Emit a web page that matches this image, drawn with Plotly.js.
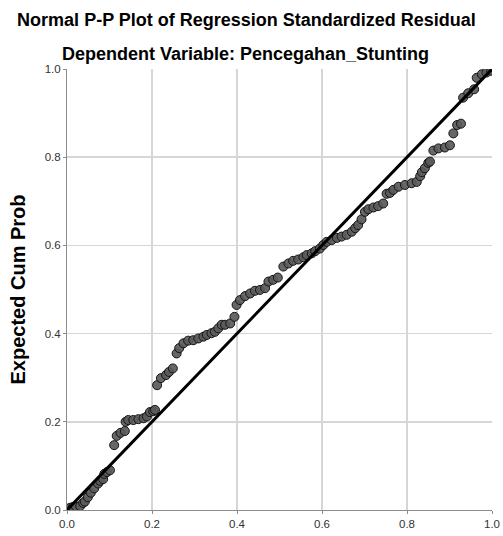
<!DOCTYPE html>
<html>
<head>
<meta charset="utf-8">
<script src="https://cdn.plot.ly/plotly-3.0.1.min.js"></script>
<style>html,body{margin:0;padding:0;background:#fff;}#chart{width:503px;height:536px;}</style>
</head>
<body>
<div id="chart"></div>
<script>
// Observed cumulative probability (x) and expected cumulative probability (y)
var observedCumProb = [0.000,0.007,0.014,0.021,0.031,0.038,0.042,0.049,0.056,0.064,0.073,0.078,0.085,0.088,0.094,0.101,
  0.111,0.117,0.126,0.136,0.138,0.144,0.156,0.168,0.180,0.188,0.195,0.203,0.207,0.212,0.221,0.233,0.240,0.249,
  0.258,0.264,0.274,0.285,0.297,0.309,0.321,0.329,0.340,0.348,0.356,0.364,0.372,0.384,0.394,0.399,0.407,0.419,
  0.431,0.442,0.454,0.466,0.474,0.485,0.496,0.509,0.521,0.532,0.544,0.556,0.564,0.576,0.584,0.595,0.603,0.611,
  0.623,0.635,0.646,0.658,0.670,0.678,0.685,0.693,0.701,0.709,0.721,0.732,0.744,0.752,0.760,0.768,0.780,0.795,
  0.811,0.823,0.831,0.835,0.842,0.850,0.854,0.862,0.874,0.889,0.901,0.909,0.918,0.927,0.932,0.944,0.958,0.964,
  0.976,0.987,0.998];
var expectedCumProb = [0.001,0.005,0.007,0.008,0.009,0.016,0.019,0.029,0.039,0.049,0.060,0.066,0.070,0.082,0.086,0.090,
  0.147,0.168,0.175,0.179,0.200,0.204,0.204,0.206,0.208,0.212,0.222,0.224,0.227,0.283,0.299,0.306,0.313,0.321,
  0.355,0.367,0.378,0.384,0.385,0.389,0.393,0.397,0.401,0.404,0.412,0.420,0.420,0.423,0.438,0.465,0.476,0.485,
  0.491,0.497,0.499,0.503,0.518,0.522,0.527,0.552,0.559,0.565,0.568,0.573,0.578,0.582,0.587,0.593,0.601,0.608,
  0.612,0.617,0.620,0.624,0.631,0.639,0.646,0.659,0.676,0.682,0.686,0.689,0.695,0.717,0.719,0.726,0.733,0.737,
  0.741,0.744,0.757,0.766,0.775,0.787,0.790,0.815,0.820,0.822,0.827,0.854,0.873,0.876,0.935,0.945,0.954,0.980,
  0.988,0.992,0.996];
var refLineX = [0, 1];
var refLineY = [0, 1];
var tickVals = [0, 0.2, 0.4, 0.6, 0.8, 1.0];
var tickText = ['0.0', '0.2', '0.4', '0.6', '0.8', '1.0'];

var font = 'Liberation Sans, Arial, sans-serif';

var traces = [
  {
    x: observedCumProb, y: expectedCumProb, type: 'scatter', mode: 'markers',
    marker: {size: 9, color: 'rgba(90,90,90,0.92)', line: {color: '#141414', width: 1}},
    hoverinfo: 'x+y', showlegend: false
  },
  {
    x: refLineX, y: refLineY, type: 'scatter', mode: 'lines',
    line: {color: '#000000', width: 3}, hoverinfo: 'skip', showlegend: false
  }
];

var axisCommon = {
  range: [0, 1], tickvals: tickVals, ticktext: tickText,
  showgrid: true, gridcolor: '#d6d6d6', gridwidth: 1.5,
  zeroline: false, showline: true, linecolor: '#8c8c8c', linewidth: 1,
  ticks: 'outside', ticklen: 3, tickcolor: '#8c8c8c',
  tickfont: {family: font, size: 11.5, color: '#333333'}, fixedrange: true
};

var layout = {
  width: 503, height: 536,
  margin: {l: 67, r: 11, t: 69, b: 26},
  paper_bgcolor: '#ffffff', plot_bgcolor: '#ffffff',
  title: {
    text: '<b>Normal P-P Plot of Regression Standardized Residual</b>',
    font: {family: font, size: 18, color: '#000000'},
    x: 246.5/503, xref: 'container', xanchor: 'center', y: 1 - 20/536, yref: 'container', yanchor: 'middle'
  },
  annotations: [{
    text: '<b>Dependent Variable: Pencegahan_Stunting</b>',
    font: {family: font, size: 18, color: '#000000'},
    xref: 'paper', yref: 'paper', x: 0.419, y: 1, xanchor: 'center', yanchor: 'middle',
    yshift: 15, showarrow: false
  }],
  xaxis: Object.assign({}, axisCommon, {tickangle: 0}),
  yaxis: Object.assign({}, axisCommon, {
    title: {text: '<b>Expected Cum Prob</b>', font: {family: font, size: 20, color: '#000000'}, standoff: 13}
  }),
  showlegend: false
};

Plotly.newPlot('chart', traces, layout, {displayModeBar: false, staticPlot: true});
</script>
</body>
</html>
